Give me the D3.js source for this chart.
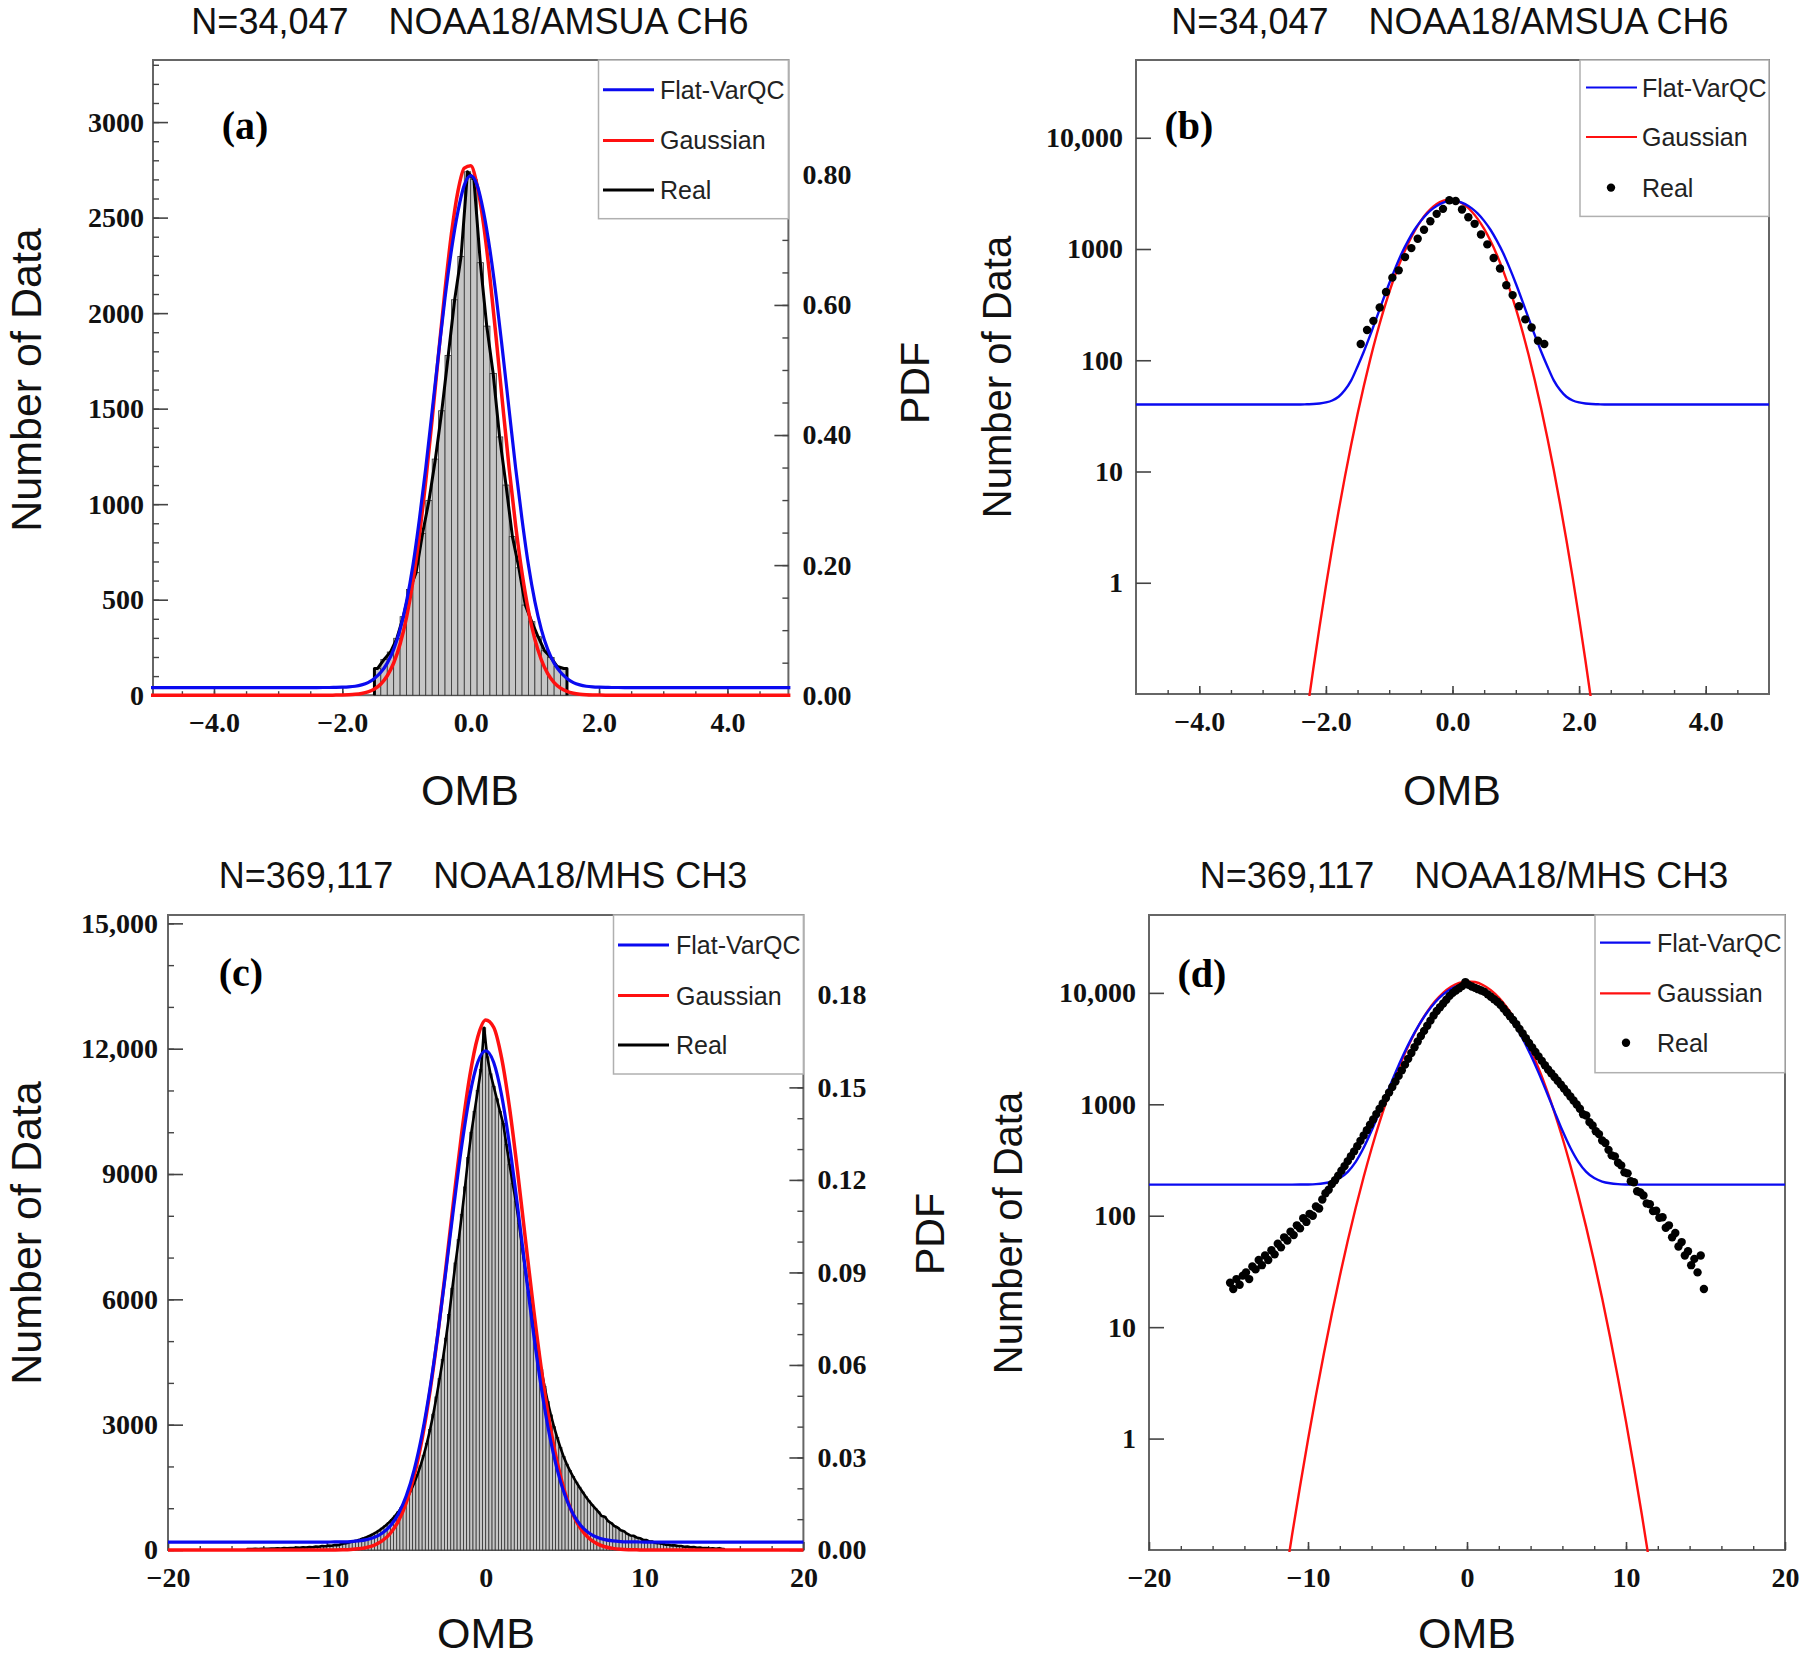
<!DOCTYPE html>
<html>
<head>
<meta charset="utf-8">
<script src="https://cdn.jsdelivr.net/npm/d3@7"></script>
<style>
  body { margin: 0; background: #fff; }
</style>
</head>
<body>
<svg id="chart" width="1805" height="1662" font-family="'Liberation Sans', Arial, sans-serif"></svg>
<script>
// ---- NOAA18/AMSUA CH6 (N=34,047), bins of 0.1 ----
const amsuaN = 34047;
const amsuaBinWidth = 0.1;
const amsuaBins = d3.range(30).map(i => -1.45 + i * amsuaBinWidth);
const amsuaCounts = [140, 187, 226, 298, 411, 553, 643, 846, 1019, 1236,
  1489, 1778, 2070, 2296, 2740, 2700, 2264, 1932, 1684, 1352,
  1100, 830, 667, 472, 385, 306, 233, 197, 150, 140];
// fitted curves, sampled every 0.1 between -2.4 and 2.4, plus the plot ends
const amsuaCurveX = [-5].concat(d3.range(-24, 25).map(i => i / 10), [5]);
const amsuaGaussian = [0, 0.0255, 0.0668, 0.167, 0.403, 0.932, 2.07, 4.39, 8.95, 17.5, 32.8,
  59.1, 101.9, 168.7, 267.8, 407.9, 595.8, 834.8, 1122, 1447, 1789,
  2122, 2415, 2636, 2759, 2771, 2669, 2466, 2185, 1858, 1515,
  1185, 888.7, 639.7, 441.5, 292.4, 185.6, 113.1, 66.1, 37.1, 19.9,
  10.3, 5.08, 2.41, 1.10, 0.478, 0.200, 0.0806, 0.0311, 0.0117, 0];
const amsuaFlat = [40, 40, 40.2, 40.4, 40.9, 41.8, 43.5, 47, 54, 66, 88,
  120, 168, 240, 345, 490, 680, 920, 1190, 1490, 1790,
  2080, 2330, 2530, 2670, 2720, 2670, 2530, 2330, 2080, 1790,
  1490, 1190, 920, 680, 490, 345, 240, 168, 120, 88,
  66, 54, 47, 43.5, 41.8, 40.9, 40.4, 40.2, 40, 40];

// ---- NOAA18/MHS CH3 (N=369,117), bins of 0.2 ----
const mhsN = 369117;
const mhsBinWidth = 0.2;
const mhsBins = d3.range(150).map(i => -14.9 + i * mhsBinWidth);
const mhsCounts = [25, 22, 27, 24, 29, 31, 27, 35, 33, 40,
  36, 44, 40, 49, 45, 56, 52, 64, 60, 72,
  67, 82, 77, 95, 88, 104, 100, 121, 116, 140,
  159, 171, 193, 208, 229, 253, 279, 309, 342, 378,
  421, 470, 525, 586, 655, 731, 817, 912, 1019, 1138,
  1274, 1429, 1603, 1799, 2018, 2270, 2559, 2884, 3251, 3664,
  4102, 4560, 5070, 5636, 6266, 6871, 7430, 8035, 8690, 9397,
  10000, 10500, 11000, 11500, 12500,
  11800, 11400, 11100, 10800, 10500, 10210, 9705, 9226, 8770, 8337,
  7816, 7228, 6683, 6180, 5715, 5236, 4753, 4315, 3917, 3556,
  3236, 2951, 2692, 2455, 2239, 2056, 1901, 1758, 1626, 1503,
  1387, 1276, 1175, 1081, 995, 912, 813, 794, 692, 646,
  574, 540, 473, 450, 390, 348, 341, 299, 283, 245,
  240, 204, 200, 166, 162, 152, 129, 127, 110, 111,
  96, 97, 78, 82, 64, 70, 53, 58, 44, 48,
  36, 41, 31, 44, 22];
// fitted curves, sampled every 0.5 between -12 and 12, plus the plot ends
const mhsCurveX = [-20].concat(d3.range(-24, 25).map(i => i / 2), [20]);
const mhsGaussian = [0, 0.0158, 0.0475, 0.137, 0.373, 0.977, 2.44, 5.81, 13.2, 28.7, 59.6,
  117.7, 222.4, 401.2, 690.6, 1135, 1780, 2667, 3813, 5203, 6781,
  8433, 10013, 11350, 12282, 12688, 12513, 11781, 10587, 9083, 7440,
  5817, 4341, 3094, 2105, 1367, 847.2, 501.3, 283.1, 152.8, 78.6,
  38.6, 18.2, 8.12, 3.47, 1.42, 0.552, 0.206, 0.0729, 0.0247, 0];
const mhsFlat = [190, 190, 190, 190.1, 190.4, 190.9, 192.3, 195.6, 202.7, 217.7, 247.7,
  304.5, 407, 581, 864, 1297, 1925, 2782, 3885, 5213, 6704,
  8248, 9697, 10889, 11675, 11950, 11675, 10889, 9697, 8248, 6704,
  5213, 3885, 2782, 1925, 1297, 864, 581, 407, 304.5, 247.7,
  217.7, 202.7, 195.6, 192.3, 190.9, 190.4, 190.1, 190, 190, 190];

// ---- tick values ----
const amsuaXTicks = [-4, -2, 0, 2, 4];
const mhsXTicks = [-20, -10, 0, 10, 20];
const amsuaCountTicks = [0, 500, 1000, 1500, 2000, 2500, 3000];
const amsuaPdfTicks = [0, 0.2, 0.4, 0.6, 0.8];
const mhsCountTicks = [0, 3000, 6000, 9000, 12000, 15000];
const mhsPdfTicks = [0, 0.03, 0.06, 0.09, 0.12, 0.15, 0.18];
const logTicks = [1, 10, 100, 1000, 10000];
const legendNames = ["Flat-VarQC", "Gaussian", "Real"];

const BLUE = "#0a0af0", RED = "#ff1010";
const SERIF = "'Liberation Serif', 'Times New Roman', serif";
const svg = d3.select("#chart");
const countFmt = v => v >= 10000 ? d3.format(",")(v) : String(v);

function addAxis(g, make, transform, major, minor, fmt, majLen, minLen, pad) {
  if (minor) {
    g.append("g").attr("transform", transform)
      .call(make().tickValues(minor).tickSize(-minLen).tickFormat(""))
      .call(s => s.select(".domain").remove())
      .selectAll("line").attr("stroke", "#444").attr("stroke-width", 1.4);
  }
  const a = g.append("g").attr("transform", transform)
    .call(make().tickValues(major).tickSize(-majLen).tickPadding(pad).tickFormat(fmt))
    .call(s => s.select(".domain").remove());
  a.selectAll("line").attr("stroke", "#444").attr("stroke-width", 1.6);
  a.selectAll("text").attr("fill", "#111")
    .style("font-family", SERIF).style("font-size", "28px").style("font-weight", "bold");
}

function makePanel(o) {
  const x = d3.scaleLinear().domain(o.xDomain).range([o.left, o.right]);
  const y = (o.log ? d3.scaleLog() : d3.scaleLinear()).domain(o.yDomain).range([o.bottom, o.top]);
  const g = svg.append("g");
  g.append("rect").attr("x", o.left).attr("y", o.top)
    .attr("width", o.right - o.left).attr("height", o.bottom - o.top)
    .attr("fill", "none").attr("stroke", "#666").attr("stroke-width", 2);

  addAxis(g, () => d3.axisBottom(x), `translate(0,${o.bottom})`, o.xTicks, o.xMinor,
    o.xFmt, 8, 4, 17);
  addAxis(g, () => d3.axisLeft(y), `translate(${o.left},0)`, o.yTicks, o.yMinor,
    countFmt, 15, 6, o.leftPad);
  if (o.pdfDomain) {
    const yp = d3.scaleLinear().domain(o.pdfDomain).range([o.bottom, o.top]);
    addAxis(g, () => d3.axisRight(yp), `translate(${o.right},0)`, o.pdfTicks, o.pdfMinor,
      d3.format(".2f"), 14, 6, 14);
  }

  svg.append("clipPath").attr("id", "clip-" + o.id).append("rect")
    .attr("x", o.left - 2).attr("y", o.top - 2)
    .attr("width", o.right - o.left + 4).attr("height", o.bottom - o.top + 4);
  const plot = g.append("g").attr("clip-path", `url(#clip-${o.id})`);

  // titles
  g.append("text").attr("x", o.titleX).attr("y", o.titleY).attr("text-anchor", "middle")
    .attr("font-size", 36).attr("fill", "#111").style("white-space", "pre").text(o.title);
  g.append("text").attr("x", o.ombX).attr("y", o.ombY).attr("text-anchor", "middle")
    .attr("font-size", 43).attr("fill", "#111").text("OMB");
  g.append("text").attr("transform", `translate(${o.ylabX},${o.ylabY}) rotate(-90)`)
    .attr("text-anchor", "middle").attr("font-size", o.ylabSize).attr("fill", "#111")
    .text("Number of Data");
  if (o.pdfDomain) {
    g.append("text").attr("transform", `translate(${o.pdfLabX},${o.pdfLabY}) rotate(-90)`)
      .attr("text-anchor", "middle").attr("font-size", 41).attr("fill", "#111").text("PDF");
  }
  g.append("text").attr("x", o.tagX).attr("y", o.tagY).attr("text-anchor", "middle")
    .attr("font-family", SERIF).attr("font-weight", "bold").attr("font-size", 40)
    .attr("fill", "#000").text(o.tag);
  return { x, y, g, plot };
}

function histogram(p, bins, counts, bw, lineW) {
  const { x, y, plot } = p;
  plot.selectAll(null).data(bins).enter().append("rect")
    .attr("x", d => x(d - bw / 2))
    .attr("width", d => x(d + bw / 2) - x(d - bw / 2))
    .attr("y", (d, i) => y(counts[i]))
    .attr("height", (d, i) => y(0) - y(counts[i]))
    .attr("fill", "#c6c6c6").attr("stroke", "#333").attr("stroke-width", 0.8);
  // outline through the bar tops, dropping to zero at the outer bin edges
  const first = bins[0] - bw / 2, last = bins[bins.length - 1] + bw / 2;
  const pts = [[first, 0], [first, counts[0]]]
    .concat(bins.map((b, i) => [b, counts[i]]))
    .concat([[last, counts[counts.length - 1]], [last, 0]]);
  plot.append("path").datum(pts)
    .attr("d", d3.line().x(d => x(d[0])).y(d => y(d[1])))
    .attr("fill", "none").attr("stroke", "#000").attr("stroke-width", lineW)
    .attr("stroke-linejoin", "round");
}

function curve(p, xs, ys, color, w, log) {
  const pts = xs.map((v, i) => [v, ys[i]]);
  const line = d3.line().x(d => p.x(d[0])).y(d => p.y(d[1])).curve(d3.curveMonotoneX);
  p.plot.append("path").datum(log ? pts.filter(d => d[1] > 0) : pts)
    .attr("d", line).attr("fill", "none").attr("stroke", color)
    .attr("stroke-width", w).attr("stroke-linejoin", "round");
}

function dots(p, bins, counts) {
  p.plot.selectAll(null).data(bins).enter().append("circle")
    .attr("cx", d => p.x(d)).attr("cy", (d, i) => p.y(counts[i]))
    .attr("r", 4.2).attr("fill", "#000");
}

function legend(p, o, lineW, dotReal) {
  const g = p.g;
  g.append("rect").attr("x", o.legX).attr("y", o.top)
    .attr("width", o.right - o.legX).attr("height", o.legBottom - o.top)
    .attr("fill", "#fff").attr("stroke", "#b0b0b0").attr("stroke-width", 1.5);
  const colors = [BLUE, RED, "#000"];
  legendNames.forEach((name, i) => {
    const yy = o.legY[i];
    if (i === 2 && dotReal) {
      g.append("circle").attr("cx", o.dotX).attr("cy", yy).attr("r", 4.2).attr("fill", "#000");
    } else {
      g.append("line").attr("x1", o.lineX[0]).attr("x2", o.lineX[1])
        .attr("y1", yy).attr("y2", yy).attr("stroke", colors[i]).attr("stroke-width", lineW);
    }
    g.append("text").attr("x", o.textX).attr("y", yy + 9).attr("font-size", 25)
      .attr("fill", "#222").text(name);
  });
}

// ---------- (a) ----------
const oA = { id: "a", left: 153, right: 788.4, top: 60, bottom: 695.2,
  xDomain: [-4.95, 4.95], yDomain: [0, 3325], log: false,
  xTicks: amsuaXTicks, xMinor: d3.range(-4.5, 5, 0.5), xFmt: d3.format(".1f"),
  yTicks: amsuaCountTicks, yMinor: d3.range(0, 3301, 100), leftPad: 9,
  pdfDomain: [0, 3325 / (amsuaN * amsuaBinWidth)], pdfTicks: amsuaPdfTicks, pdfMinor: d3.range(0, 0.96, 0.05),
  title: "N=34,047    NOAA18/AMSUA CH6", titleX: 470, titleY: 34,
  ombX: 470, ombY: 805, ylabX: 41, ylabY: 380, ylabSize: 43, pdfLabX: 929, pdfLabY: 383,
  tag: "(a)", tagX: 245, tagY: 139,
  legX: 598.5, legBottom: 218.7, legY: [89.8, 140.4, 190], lineX: [603, 654], textX: 660 };
const pA = makePanel(oA);
histogram(pA, amsuaBins, amsuaCounts, amsuaBinWidth, 3);
curve(pA, amsuaCurveX, amsuaGaussian, RED, 3.5, false);
curve(pA, amsuaCurveX, amsuaFlat, BLUE, 3.2, false);
legend(pA, oA, 3, false);

// ---------- (b) ----------
const oB = { id: "b", left: 1136, right: 1769, top: 60, bottom: 694,
  xDomain: [-5, 5], yDomain: [0.1, 50000], log: true,
  xTicks: amsuaXTicks, xMinor: d3.range(-4.5, 5, 0.5), xFmt: d3.format(".1f"),
  yTicks: logTicks, yMinor: null, leftPad: 13,
  title: "N=34,047    NOAA18/AMSUA CH6", titleX: 1450, titleY: 34,
  ombX: 1452, ombY: 805, ylabX: 1011, ylabY: 377, ylabSize: 40,
  tag: "(b)", tagX: 1189, tagY: 139,
  legX: 1580, legBottom: 216.4, legY: [87.5, 137, 187.6], lineX: [1586, 1637], textX: 1642, dotX: 1611 };
const pB = makePanel(oB);
curve(pB, amsuaCurveX, amsuaGaussian, RED, 2.4, true);
curve(pB, amsuaCurveX, amsuaFlat, BLUE, 2.4, true);
dots(pB, amsuaBins, amsuaCounts);
legend(pB, oB, 2.2, true);

// ---------- (c) ----------
const oC = { id: "c", left: 168, right: 803.4, top: 915, bottom: 1550,
  xDomain: [-20, 20], yDomain: [0, 15200], log: false,
  xTicks: mhsXTicks, xMinor: d3.range(-18, 20, 2), xFmt: d3.format("d"),
  yTicks: mhsCountTicks, yMinor: d3.range(0, 15001, 1000), leftPad: 10,
  pdfDomain: [0, 15200 / (mhsN * mhsBinWidth)], pdfTicks: mhsPdfTicks, pdfMinor: d3.range(0, 0.205, 0.01),
  title: "N=369,117    NOAA18/MHS CH3", titleX: 483, titleY: 888,
  ombX: 486, ombY: 1648, ylabX: 41, ylabY: 1233, ylabSize: 43, pdfLabX: 944, pdfLabY: 1234,
  tag: "(c)", tagX: 241, tagY: 986,
  legX: 613.5, legBottom: 1074, legY: [945, 995.6, 1045], lineX: [618, 669], textX: 676 };
const pC = makePanel(oC);
histogram(pC, mhsBins, mhsCounts, mhsBinWidth, 2.6);
curve(pC, mhsCurveX, mhsGaussian, RED, 3.5, false);
curve(pC, mhsCurveX, mhsFlat, BLUE, 3.2, false);
legend(pC, oC, 3, false);

// ---------- (d) ----------
const oD = { id: "d", left: 1149, right: 1785, top: 915, bottom: 1550,
  xDomain: [-20, 20], yDomain: [0.1, 50000], log: true,
  xTicks: mhsXTicks, xMinor: d3.range(-18, 20, 2), xFmt: d3.format("d"),
  yTicks: logTicks, yMinor: null, leftPad: 13,
  title: "N=369,117    NOAA18/MHS CH3", titleX: 1464, titleY: 888,
  ombX: 1467, ombY: 1648, ylabX: 1022, ylabY: 1233, ylabSize: 40,
  tag: "(d)", tagX: 1202, tagY: 987,
  legX: 1595, legBottom: 1072.7, legY: [942.7, 993.3, 1042.8], lineX: [1600, 1650.5], textX: 1657, dotX: 1626 };
const pD = makePanel(oD);
curve(pD, mhsCurveX, mhsGaussian, RED, 2.4, true);
curve(pD, mhsCurveX, mhsFlat, BLUE, 2.4, true);
dots(pD, mhsBins, mhsCounts);
legend(pD, oD, 2.2, true);
</script>
</body>
</html>
